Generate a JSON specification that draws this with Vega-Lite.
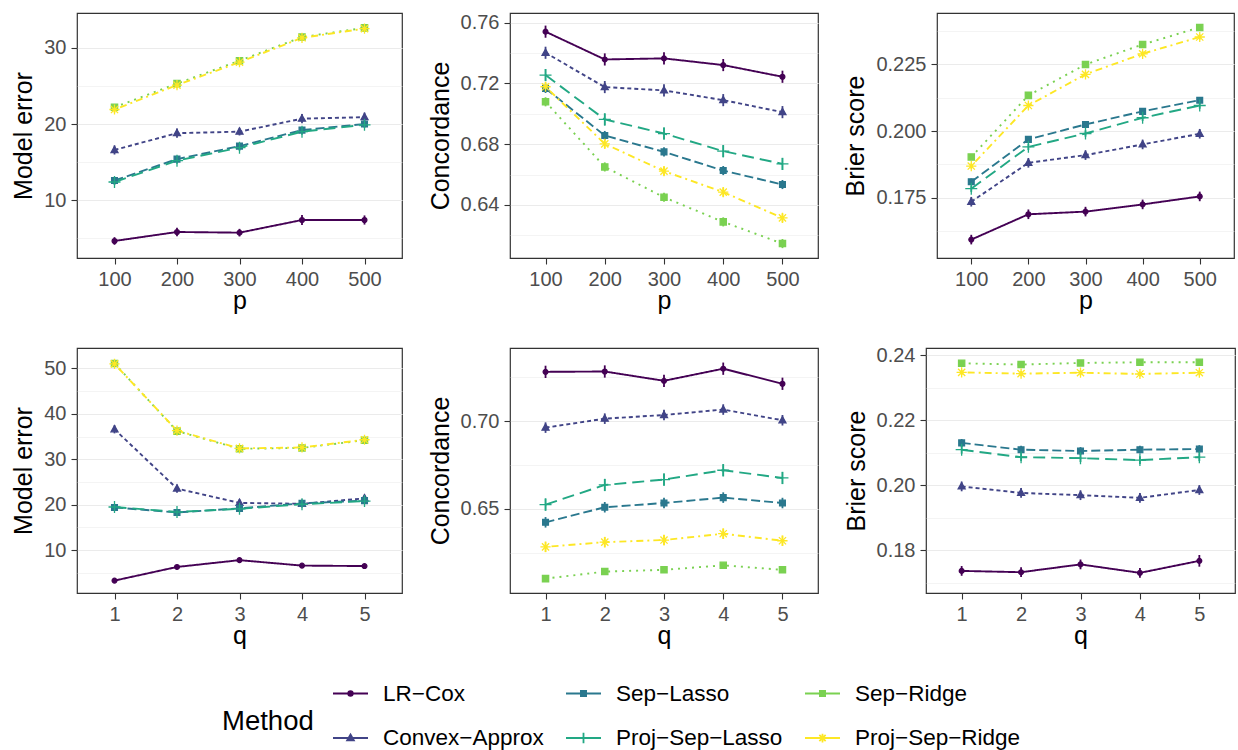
{
  "$schema": "https://vega.github.io/schema/vega-lite/v6.json",
  "padding": {"left": 11, "top": 12, "right": 0, "bottom": 0},
  "config": {
    "font": "Liberation Sans",
    "view": {"stroke": "#333333", "strokeWidth": 1.2},
    "axis": {
      "labelFont": "Liberation Sans", "labelFontSize": 20, "labelColor": "#4D4D4D",
      "titleFont": "Liberation Sans", "titleFontSize": 25, "titleFontWeight": "normal", "titleColor": "#000000",
      "tickColor": "#333333", "tickSize": 6, "tickWidth": 1.1, "domain": false,
      "gridColor": "#EBEBEB", "gridWidth": 1.1, "labelPadding": 5, "titlePadding": 7
    },
    "axisX": {"titlePadding": -1, "labelAngle": 0},
    "legend": {
      "orient": "none", "legendX": 145, "legendY": 662, "direction": "horizontal", "columns": 3,
      "titleOrient": "left", "titleAnchor": "middle", "titleBaseline": "middle",
      "titleFont": "Liberation Sans", "titleFontSize": 27.5, "titleFontWeight": "normal", "titleColor": "#000000", "titlePadding": 18,
      "labelFont": "Liberation Sans", "labelFontSize": 22.5, "labelColor": "#000000", "labelOffset": 14, "labelLimit": 400,
      "symbolSize": 1225, "symbolStrokeWidth": 1.8, "columnPadding": 18, "rowPadding": 14.5, "gridAlign": "each", "padding": 0
    }
  },
  "data": {"values": [
    {"panel":"me_p","x":100,"method":"LR−Cox","value":4.67,"err":0.5},
    {"panel":"me_p","x":200,"method":"LR−Cox","value":5.85,"err":0.55},
    {"panel":"me_p","x":300,"method":"LR−Cox","value":5.76,"err":0.5},
    {"panel":"me_p","x":400,"method":"LR−Cox","value":7.42,"err":0.65},
    {"panel":"me_p","x":500,"method":"LR−Cox","value":7.42,"err":0.6},
    {"panel":"me_p","x":100,"method":"Convex−Approx","value":16.6,"err":0.6},
    {"panel":"me_p","x":200,"method":"Convex−Approx","value":18.8,"err":0.6},
    {"panel":"me_p","x":300,"method":"Convex−Approx","value":19.0,"err":0.5},
    {"panel":"me_p","x":400,"method":"Convex−Approx","value":20.7,"err":0.6},
    {"panel":"me_p","x":500,"method":"Convex−Approx","value":20.9,"err":0.6},
    {"panel":"me_p","x":100,"method":"Sep−Lasso","value":12.6,"err":0.4},
    {"panel":"me_p","x":200,"method":"Sep−Lasso","value":15.4,"err":0.4},
    {"panel":"me_p","x":300,"method":"Sep−Lasso","value":17.1,"err":0.4},
    {"panel":"me_p","x":400,"method":"Sep−Lasso","value":19.2,"err":0.4},
    {"panel":"me_p","x":500,"method":"Sep−Lasso","value":20.0,"err":0.4},
    {"panel":"me_p","x":100,"method":"Proj−Sep−Lasso","value":12.4,"err":0.4},
    {"panel":"me_p","x":200,"method":"Proj−Sep−Lasso","value":15.2,"err":0.4},
    {"panel":"me_p","x":300,"method":"Proj−Sep−Lasso","value":16.9,"err":0.4},
    {"panel":"me_p","x":400,"method":"Proj−Sep−Lasso","value":19.0,"err":0.4},
    {"panel":"me_p","x":500,"method":"Proj−Sep−Lasso","value":19.9,"err":0.4},
    {"panel":"me_p","x":100,"method":"Sep−Ridge","value":22.2,"err":0.4},
    {"panel":"me_p","x":200,"method":"Sep−Ridge","value":25.3,"err":0.4},
    {"panel":"me_p","x":300,"method":"Sep−Ridge","value":28.3,"err":0.4},
    {"panel":"me_p","x":400,"method":"Sep−Ridge","value":31.4,"err":0.4},
    {"panel":"me_p","x":500,"method":"Sep−Ridge","value":32.6,"err":0.4},
    {"panel":"me_p","x":100,"method":"Proj−Sep−Ridge","value":21.9,"err":0.4},
    {"panel":"me_p","x":200,"method":"Proj−Sep−Ridge","value":25.1,"err":0.4},
    {"panel":"me_p","x":300,"method":"Proj−Sep−Ridge","value":28.1,"err":0.4},
    {"panel":"me_p","x":400,"method":"Proj−Sep−Ridge","value":31.3,"err":0.4},
    {"panel":"me_p","x":500,"method":"Proj−Sep−Ridge","value":32.5,"err":0.4},

    {"panel":"conc_p","x":100,"method":"LR−Cox","value":0.7541,"err":0.004},
    {"panel":"conc_p","x":200,"method":"LR−Cox","value":0.7358,"err":0.004},
    {"panel":"conc_p","x":300,"method":"LR−Cox","value":0.7365,"err":0.004},
    {"panel":"conc_p","x":400,"method":"LR−Cox","value":0.7321,"err":0.004},
    {"panel":"conc_p","x":500,"method":"LR−Cox","value":0.7244,"err":0.004},
    {"panel":"conc_p","x":100,"method":"Convex−Approx","value":0.7402,"err":0.004},
    {"panel":"conc_p","x":200,"method":"Convex−Approx","value":0.7176,"err":0.004},
    {"panel":"conc_p","x":300,"method":"Convex−Approx","value":0.7154,"err":0.004},
    {"panel":"conc_p","x":400,"method":"Convex−Approx","value":0.7090,"err":0.004},
    {"panel":"conc_p","x":500,"method":"Convex−Approx","value":0.7011,"err":0.004},
    {"panel":"conc_p","x":100,"method":"Sep−Lasso","value":0.7167,"err":0.003},
    {"panel":"conc_p","x":200,"method":"Sep−Lasso","value":0.6857,"err":0.003},
    {"panel":"conc_p","x":300,"method":"Sep−Lasso","value":0.6749,"err":0.003},
    {"panel":"conc_p","x":400,"method":"Sep−Lasso","value":0.6626,"err":0.003},
    {"panel":"conc_p","x":500,"method":"Sep−Lasso","value":0.6534,"err":0.003},
    {"panel":"conc_p","x":100,"method":"Proj−Sep−Lasso","value":0.7255,"err":0.004},
    {"panel":"conc_p","x":200,"method":"Proj−Sep−Lasso","value":0.6963,"err":0.004},
    {"panel":"conc_p","x":300,"method":"Proj−Sep−Lasso","value":0.6870,"err":0.004},
    {"panel":"conc_p","x":400,"method":"Proj−Sep−Lasso","value":0.6754,"err":0.004},
    {"panel":"conc_p","x":500,"method":"Proj−Sep−Lasso","value":0.6670,"err":0.004},
    {"panel":"conc_p","x":100,"method":"Sep−Ridge","value":0.7079,"err":0.003},
    {"panel":"conc_p","x":200,"method":"Sep−Ridge","value":0.6650,"err":0.003},
    {"panel":"conc_p","x":300,"method":"Sep−Ridge","value":0.6450,"err":0.003},
    {"panel":"conc_p","x":400,"method":"Sep−Ridge","value":0.6288,"err":0.003},
    {"panel":"conc_p","x":500,"method":"Sep−Ridge","value":0.6145,"err":0.003},
    {"panel":"conc_p","x":100,"method":"Proj−Sep−Ridge","value":0.7178,"err":0.003},
    {"panel":"conc_p","x":200,"method":"Proj−Sep−Ridge","value":0.6802,"err":0.003},
    {"panel":"conc_p","x":300,"method":"Proj−Sep−Ridge","value":0.6622,"err":0.003},
    {"panel":"conc_p","x":400,"method":"Proj−Sep−Ridge","value":0.6484,"err":0.003},
    {"panel":"conc_p","x":500,"method":"Proj−Sep−Ridge","value":0.6314,"err":0.003},

    {"panel":"brier_p","x":100,"method":"LR−Cox","value":0.1593,"err":0.0018},
    {"panel":"brier_p","x":200,"method":"LR−Cox","value":0.1688,"err":0.0018},
    {"panel":"brier_p","x":300,"method":"LR−Cox","value":0.1698,"err":0.0018},
    {"panel":"brier_p","x":400,"method":"LR−Cox","value":0.1725,"err":0.0018},
    {"panel":"brier_p","x":500,"method":"LR−Cox","value":0.1755,"err":0.0018},
    {"panel":"brier_p","x":100,"method":"Convex−Approx","value":0.1735,"err":0.0018},
    {"panel":"brier_p","x":200,"method":"Convex−Approx","value":0.1881,"err":0.0018},
    {"panel":"brier_p","x":300,"method":"Convex−Approx","value":0.1910,"err":0.0018},
    {"panel":"brier_p","x":400,"method":"Convex−Approx","value":0.1950,"err":0.0018},
    {"panel":"brier_p","x":500,"method":"Convex−Approx","value":0.1990,"err":0.0018},
    {"panel":"brier_p","x":100,"method":"Sep−Lasso","value":0.1810,"err":0.0012},
    {"panel":"brier_p","x":200,"method":"Sep−Lasso","value":0.1969,"err":0.0012},
    {"panel":"brier_p","x":300,"method":"Sep−Lasso","value":0.2025,"err":0.0012},
    {"panel":"brier_p","x":400,"method":"Sep−Lasso","value":0.2074,"err":0.0012},
    {"panel":"brier_p","x":500,"method":"Sep−Lasso","value":0.2116,"err":0.0012},
    {"panel":"brier_p","x":100,"method":"Proj−Sep−Lasso","value":0.1784,"err":0.0012},
    {"panel":"brier_p","x":200,"method":"Proj−Sep−Lasso","value":0.1941,"err":0.0012},
    {"panel":"brier_p","x":300,"method":"Proj−Sep−Lasso","value":0.1991,"err":0.0012},
    {"panel":"brier_p","x":400,"method":"Proj−Sep−Lasso","value":0.2050,"err":0.0012},
    {"panel":"brier_p","x":500,"method":"Proj−Sep−Lasso","value":0.2096,"err":0.0012},
    {"panel":"brier_p","x":100,"method":"Sep−Ridge","value":0.1903,"err":0.001},
    {"panel":"brier_p","x":200,"method":"Sep−Ridge","value":0.2134,"err":0.001},
    {"panel":"brier_p","x":300,"method":"Sep−Ridge","value":0.2250,"err":0.001},
    {"panel":"brier_p","x":400,"method":"Sep−Ridge","value":0.2325,"err":0.001},
    {"panel":"brier_p","x":500,"method":"Sep−Ridge","value":0.2389,"err":0.001},
    {"panel":"brier_p","x":100,"method":"Proj−Sep−Ridge","value":0.1869,"err":0.001},
    {"panel":"brier_p","x":200,"method":"Proj−Sep−Ridge","value":0.2096,"err":0.001},
    {"panel":"brier_p","x":300,"method":"Proj−Sep−Ridge","value":0.2213,"err":0.001},
    {"panel":"brier_p","x":400,"method":"Proj−Sep−Ridge","value":0.2290,"err":0.001},
    {"panel":"brier_p","x":500,"method":"Proj−Sep−Ridge","value":0.2353,"err":0.001},

    {"panel":"me_q","x":1,"method":"LR−Cox","value":3.3,"err":0.3},
    {"panel":"me_q","x":2,"method":"LR−Cox","value":6.3,"err":0.3},
    {"panel":"me_q","x":3,"method":"LR−Cox","value":7.8,"err":0.3},
    {"panel":"me_q","x":4,"method":"LR−Cox","value":6.6,"err":0.3},
    {"panel":"me_q","x":5,"method":"LR−Cox","value":6.5,"err":0.3},
    {"panel":"me_q","x":1,"method":"Convex−Approx","value":36.6,"err":0.9},
    {"panel":"me_q","x":2,"method":"Convex−Approx","value":23.55,"err":0.9},
    {"panel":"me_q","x":3,"method":"Convex−Approx","value":20.4,"err":0.8},
    {"panel":"me_q","x":4,"method":"Convex−Approx","value":20.2,"err":0.8},
    {"panel":"me_q","x":5,"method":"Convex−Approx","value":21.4,"err":0.8},
    {"panel":"me_q","x":1,"method":"Sep−Lasso","value":19.4,"err":0.6},
    {"panel":"me_q","x":2,"method":"Sep−Lasso","value":18.3,"err":0.6},
    {"panel":"me_q","x":3,"method":"Sep−Lasso","value":19.2,"err":0.6},
    {"panel":"me_q","x":4,"method":"Sep−Lasso","value":20.3,"err":0.6},
    {"panel":"me_q","x":5,"method":"Sep−Lasso","value":20.9,"err":0.6},
    {"panel":"me_q","x":1,"method":"Proj−Sep−Lasso","value":19.5,"err":0.6},
    {"panel":"me_q","x":2,"method":"Proj−Sep−Lasso","value":18.4,"err":0.6},
    {"panel":"me_q","x":3,"method":"Proj−Sep−Lasso","value":19.1,"err":0.6},
    {"panel":"me_q","x":4,"method":"Proj−Sep−Lasso","value":20.1,"err":0.6},
    {"panel":"me_q","x":5,"method":"Proj−Sep−Lasso","value":20.8,"err":0.6},
    {"panel":"me_q","x":1,"method":"Sep−Ridge","value":51.1,"err":0.6},
    {"panel":"me_q","x":2,"method":"Sep−Ridge","value":36.2,"err":0.6},
    {"panel":"me_q","x":3,"method":"Sep−Ridge","value":32.3,"err":0.6},
    {"panel":"me_q","x":4,"method":"Sep−Ridge","value":32.5,"err":0.6},
    {"panel":"me_q","x":5,"method":"Sep−Ridge","value":34.2,"err":0.6},
    {"panel":"me_q","x":1,"method":"Proj−Sep−Ridge","value":51.0,"err":0.5},
    {"panel":"me_q","x":2,"method":"Proj−Sep−Ridge","value":36.3,"err":0.5},
    {"panel":"me_q","x":3,"method":"Proj−Sep−Ridge","value":32.4,"err":0.5},
    {"panel":"me_q","x":4,"method":"Proj−Sep−Ridge","value":32.6,"err":0.5},
    {"panel":"me_q","x":5,"method":"Proj−Sep−Ridge","value":34.3,"err":0.5},

    {"panel":"conc_q","x":1,"method":"LR−Cox","value":0.7282,"err":0.0035},
    {"panel":"conc_q","x":2,"method":"LR−Cox","value":0.7284,"err":0.0035},
    {"panel":"conc_q","x":3,"method":"LR−Cox","value":0.7231,"err":0.0035},
    {"panel":"conc_q","x":4,"method":"LR−Cox","value":0.7300,"err":0.0035},
    {"panel":"conc_q","x":5,"method":"LR−Cox","value":0.7214,"err":0.0035},
    {"panel":"conc_q","x":1,"method":"Convex−Approx","value":0.6964,"err":0.003},
    {"panel":"conc_q","x":2,"method":"Convex−Approx","value":0.7015,"err":0.003},
    {"panel":"conc_q","x":3,"method":"Convex−Approx","value":0.7036,"err":0.003},
    {"panel":"conc_q","x":4,"method":"Convex−Approx","value":0.7067,"err":0.003},
    {"panel":"conc_q","x":5,"method":"Convex−Approx","value":0.7006,"err":0.003},
    {"panel":"conc_q","x":1,"method":"Sep−Lasso","value":0.6424,"err":0.003},
    {"panel":"conc_q","x":2,"method":"Sep−Lasso","value":0.6510,"err":0.003},
    {"panel":"conc_q","x":3,"method":"Sep−Lasso","value":0.6534,"err":0.003},
    {"panel":"conc_q","x":4,"method":"Sep−Lasso","value":0.6565,"err":0.003},
    {"panel":"conc_q","x":5,"method":"Sep−Lasso","value":0.6534,"err":0.003},
    {"panel":"conc_q","x":1,"method":"Proj−Sep−Lasso","value":0.6525,"err":0.0035},
    {"panel":"conc_q","x":2,"method":"Proj−Sep−Lasso","value":0.6637,"err":0.0035},
    {"panel":"conc_q","x":3,"method":"Proj−Sep−Lasso","value":0.6668,"err":0.0035},
    {"panel":"conc_q","x":4,"method":"Proj−Sep−Lasso","value":0.6721,"err":0.0035},
    {"panel":"conc_q","x":5,"method":"Proj−Sep−Lasso","value":0.6677,"err":0.0035},
    {"panel":"conc_q","x":1,"method":"Sep−Ridge","value":0.6103,"err":0.0015},
    {"panel":"conc_q","x":2,"method":"Sep−Ridge","value":0.6143,"err":0.0015},
    {"panel":"conc_q","x":3,"method":"Sep−Ridge","value":0.6153,"err":0.0015},
    {"panel":"conc_q","x":4,"method":"Sep−Ridge","value":0.6179,"err":0.0015},
    {"panel":"conc_q","x":5,"method":"Sep−Ridge","value":0.6153,"err":0.0015},
    {"panel":"conc_q","x":1,"method":"Proj−Sep−Ridge","value":0.6284,"err":0.003},
    {"panel":"conc_q","x":2,"method":"Proj−Sep−Ridge","value":0.6311,"err":0.003},
    {"panel":"conc_q","x":3,"method":"Proj−Sep−Ridge","value":0.6323,"err":0.003},
    {"panel":"conc_q","x":4,"method":"Proj−Sep−Ridge","value":0.6359,"err":0.003},
    {"panel":"conc_q","x":5,"method":"Proj−Sep−Ridge","value":0.6319,"err":0.003},

    {"panel":"brier_q","x":1,"method":"LR−Cox","value":0.1736,"err":0.0015},
    {"panel":"brier_q","x":2,"method":"LR−Cox","value":0.1732,"err":0.0015},
    {"panel":"brier_q","x":3,"method":"LR−Cox","value":0.1756,"err":0.0015},
    {"panel":"brier_q","x":4,"method":"LR−Cox","value":0.1730,"err":0.0015},
    {"panel":"brier_q","x":5,"method":"LR−Cox","value":0.1767,"err":0.0018},
    {"panel":"brier_q","x":1,"method":"Convex−Approx","value":0.1996,"err":0.0015},
    {"panel":"brier_q","x":2,"method":"Convex−Approx","value":0.1976,"err":0.0015},
    {"panel":"brier_q","x":3,"method":"Convex−Approx","value":0.1969,"err":0.0015},
    {"panel":"brier_q","x":4,"method":"Convex−Approx","value":0.1961,"err":0.0015},
    {"panel":"brier_q","x":5,"method":"Convex−Approx","value":0.1985,"err":0.0015},
    {"panel":"brier_q","x":1,"method":"Sep−Lasso","value":0.2130,"err":0.0012},
    {"panel":"brier_q","x":2,"method":"Sep−Lasso","value":0.2109,"err":0.0012},
    {"panel":"brier_q","x":3,"method":"Sep−Lasso","value":0.2105,"err":0.0012},
    {"panel":"brier_q","x":4,"method":"Sep−Lasso","value":0.2109,"err":0.0012},
    {"panel":"brier_q","x":5,"method":"Sep−Lasso","value":0.2111,"err":0.0012},
    {"panel":"brier_q","x":1,"method":"Proj−Sep−Lasso","value":0.2109,"err":0.0012},
    {"panel":"brier_q","x":2,"method":"Proj−Sep−Lasso","value":0.2086,"err":0.0012},
    {"panel":"brier_q","x":3,"method":"Proj−Sep−Lasso","value":0.2083,"err":0.0012},
    {"panel":"brier_q","x":4,"method":"Proj−Sep−Lasso","value":0.2077,"err":0.0012},
    {"panel":"brier_q","x":5,"method":"Proj−Sep−Lasso","value":0.2086,"err":0.0012},
    {"panel":"brier_q","x":1,"method":"Sep−Ridge","value":0.2375,"err":0.0008},
    {"panel":"brier_q","x":2,"method":"Sep−Ridge","value":0.2371,"err":0.0008},
    {"panel":"brier_q","x":3,"method":"Sep−Ridge","value":0.2376,"err":0.0008},
    {"panel":"brier_q","x":4,"method":"Sep−Ridge","value":0.2378,"err":0.0008},
    {"panel":"brier_q","x":5,"method":"Sep−Ridge","value":0.2378,"err":0.0008},
    {"panel":"brier_q","x":1,"method":"Proj−Sep−Ridge","value":0.2347,"err":0.0008},
    {"panel":"brier_q","x":2,"method":"Proj−Sep−Ridge","value":0.2343,"err":0.0008},
    {"panel":"brier_q","x":3,"method":"Proj−Sep−Ridge","value":0.2346,"err":0.0008},
    {"panel":"brier_q","x":4,"method":"Proj−Sep−Ridge","value":0.2342,"err":0.0008},
    {"panel":"brier_q","x":5,"method":"Proj−Sep−Ridge","value":0.2346,"err":0.0008}
  ]},
  "vconcat": [
    {
      "hconcat": [
        {
          "width": 325, "height": 245,
          "transform": [{"filter": "datum.panel === 'me_p'"}],
          "encoding": {
            "x": {"field": "x", "type": "ordinal", "scale": {"type": "point", "padding": 0.6}, "axis": {"title": "p"}},
            "y": {"field": "value", "type": "quantitative", "scale": {"domain": [2.44, 34.55], "nice": false, "zero": false},
                  "axis": {"title": "Model error", "values": [5, 10, 15, 20, 25, 30],
                           "labelExpr": "round(datum.value) % 10 === 0 ? datum.label : ''",
                           "gridWidth": {"condition": {"test": "round(datum.value) % 10 !== 0", "value": 0.55}, "value": 1.1},
                           "tickOpacity": {"condition": {"test": "round(datum.value) % 10 !== 0", "value": 0}, "value": 1}}},
            "color": {"field": "method", "type": "nominal", "title": "Method",
                      "scale": {"domain": ["LR−Cox", "Sep−Lasso", "Sep−Ridge", "Convex−Approx", "Proj−Sep−Lasso", "Proj−Sep−Ridge"],
                                "range": ["#440154", "#2A788E", "#7AD151", "#414487", "#22A884", "#FDE725"]},
                      "legend": {"encode": {
                        "title": {"update": {"dy": {"value": 10}}},
                        "symbols": {"update": {
                        "shape": {"signal": "['M-1,0H1M0.13,0A0.13,0.13 0 1,1 -0.13,0A0.13,0.13 0 1,1 0.13,0Z','M-1,0H1M-0.15,-0.15H0.15V0.15H-0.15Z','M-1,0H1M-0.15,-0.15H0.15V0.15H-0.15Z','M-1,0H1M0,-0.2L0.19,0.13L-0.19,0.13Z','M-1,0H1M0,-0.3V0.3','M-1,0H1M0,-0.25V0.25M-0.18,-0.18L0.18,0.18M-0.18,0.18L0.18,-0.18'][indexof(['LR−Cox','Sep−Lasso','Sep−Ridge','Convex−Approx','Proj−Sep−Lasso','Proj−Sep−Ridge'], datum.value)]"},
                        "fill": {"signal": "scale('color', datum.value)"},
                        "stroke": {"signal": "scale('color', datum.value)"},
                        "opacity": {"value": 1},
                        "strokeDash": {"value": []}
                      }}}}}
          },
          "layer": [
            {"mark": {"type": "line", "strokeWidth": 1.9},
             "encoding": {"strokeDash": {"field": "method", "type": "nominal", "legend": null,
               "scale": {"domain": ["LR−Cox", "Convex−Approx", "Sep−Lasso", "Proj−Sep−Lasso", "Sep−Ridge", "Proj−Sep−Ridge"],
                         "range": [[1, 0], [4, 3], [9, 4], [12, 6], [2, 5], [2, 4, 7, 4]]}}}},
            {"mark": {"type": "errorbar", "thickness": 1.8}, "encoding": {"yError": {"field": "err"}}},
            {"mark": {"type": "point", "filled": true, "size": 144, "opacity": 1, "strokeWidth": 1.3},
             "encoding": {
               "shape": {"field": "method", "type": "nominal", "legend": null,
                 "scale": {"domain": ["LR−Cox", "Convex−Approx", "Sep−Lasso", "Proj−Sep−Lasso", "Sep−Ridge", "Proj−Sep−Ridge"],
                           "range": ["M0.4,0A0.4,0.4 0 1,1 -0.4,0A0.4,0.4 0 1,1 0.4,0Z", "M0,-0.62L0.58,0.42L-0.58,0.42Z", "M-0.48,-0.48H0.48V0.48H-0.48Z", "M-1,0H1M0,-1V1", "M-0.52,-0.52H0.52V0.52H-0.52Z", "M-0.85,0H0.85M0,-0.85V0.85M-0.6,-0.6L0.6,0.6M-0.6,0.6L0.6,-0.6"]}},
               "stroke": {"field": "method", "type": "nominal", "legend": null,
                 "scale": {"domain": ["LR−Cox", "Convex−Approx", "Sep−Lasso", "Proj−Sep−Lasso", "Sep−Ridge", "Proj−Sep−Ridge"],
                           "range": ["#440154", "#414487", "#2A788E", "#22A884", "#7AD151", "#FDE725"]}}
             }}
          ]
        },
        {
          "width": 308, "height": 245,
          "transform": [{"filter": "datum.panel === 'conc_p'"}],
          "encoding": {
            "x": {"field": "x", "type": "ordinal", "scale": {"type": "point", "padding": 0.6}, "axis": {"title": "p"}},
            "y": {"field": "value", "type": "quantitative", "scale": {"domain": [0.605, 0.7664], "nice": false, "zero": false},
                  "axis": {"title": "Concordance", "format": ".2f", "values": [0.62, 0.64, 0.66, 0.68, 0.70, 0.72, 0.74, 0.76],
                           "labelExpr": "round(datum.value * 100) % 4 === 0 ? datum.label : ''",
                           "gridWidth": {"condition": {"test": "round(datum.value * 100) % 4 !== 0", "value": 0.55}, "value": 1.1},
                           "tickOpacity": {"condition": {"test": "round(datum.value * 100) % 4 !== 0", "value": 0}, "value": 1}}},
            "color": {"field": "method", "type": "nominal", "title": "Method",
                      "scale": {"domain": ["LR−Cox", "Sep−Lasso", "Sep−Ridge", "Convex−Approx", "Proj−Sep−Lasso", "Proj−Sep−Ridge"],
                                "range": ["#440154", "#2A788E", "#7AD151", "#414487", "#22A884", "#FDE725"]}}
          },
          "layer": [
            {"mark": {"type": "line", "strokeWidth": 1.9},
             "encoding": {"strokeDash": {"field": "method", "type": "nominal", "legend": null,
               "scale": {"domain": ["LR−Cox", "Convex−Approx", "Sep−Lasso", "Proj−Sep−Lasso", "Sep−Ridge", "Proj−Sep−Ridge"],
                         "range": [[1, 0], [4, 3], [9, 4], [12, 6], [2, 5], [2, 4, 7, 4]]}}}},
            {"mark": {"type": "errorbar", "thickness": 1.8}, "encoding": {"yError": {"field": "err"}}},
            {"mark": {"type": "point", "filled": true, "size": 144, "opacity": 1, "strokeWidth": 1.3},
             "encoding": {
               "shape": {"field": "method", "type": "nominal", "legend": null,
                 "scale": {"domain": ["LR−Cox", "Convex−Approx", "Sep−Lasso", "Proj−Sep−Lasso", "Sep−Ridge", "Proj−Sep−Ridge"],
                           "range": ["M0.4,0A0.4,0.4 0 1,1 -0.4,0A0.4,0.4 0 1,1 0.4,0Z", "M0,-0.62L0.58,0.42L-0.58,0.42Z", "M-0.48,-0.48H0.48V0.48H-0.48Z", "M-1,0H1M0,-1V1", "M-0.52,-0.52H0.52V0.52H-0.52Z", "M-0.85,0H0.85M0,-0.85V0.85M-0.6,-0.6L0.6,0.6M-0.6,0.6L0.6,-0.6"]}},
               "stroke": {"field": "method", "type": "nominal", "legend": null,
                 "scale": {"domain": ["LR−Cox", "Convex−Approx", "Sep−Lasso", "Proj−Sep−Lasso", "Sep−Ridge", "Proj−Sep−Ridge"],
                           "range": ["#440154", "#414487", "#2A788E", "#22A884", "#7AD151", "#FDE725"]}}
             }}
          ]
        },
        {
          "width": 297, "height": 245,
          "transform": [{"filter": "datum.panel === 'brier_p'"}],
          "encoding": {
            "x": {"field": "x", "type": "ordinal", "scale": {"type": "point", "padding": 0.6}, "axis": {"title": "p"}},
            "y": {"field": "value", "type": "quantitative", "scale": {"domain": [0.1524, 0.2443], "nice": false, "zero": false},
                  "axis": {"title": "Brier score", "format": ".3f", "values": [0.1625, 0.175, 0.1875, 0.2, 0.2125, 0.225, 0.2375],
                           "labelExpr": "round(datum.value * 1000) % 25 === 0 ? datum.label : ''",
                           "gridWidth": {"condition": {"test": "round(datum.value * 1000) % 25 !== 0", "value": 0.55}, "value": 1.1},
                           "tickOpacity": {"condition": {"test": "round(datum.value * 1000) % 25 !== 0", "value": 0}, "value": 1}}},
            "color": {"field": "method", "type": "nominal", "title": "Method",
                      "scale": {"domain": ["LR−Cox", "Sep−Lasso", "Sep−Ridge", "Convex−Approx", "Proj−Sep−Lasso", "Proj−Sep−Ridge"],
                                "range": ["#440154", "#2A788E", "#7AD151", "#414487", "#22A884", "#FDE725"]}}
          },
          "layer": [
            {"mark": {"type": "line", "strokeWidth": 1.9},
             "encoding": {"strokeDash": {"field": "method", "type": "nominal", "legend": null,
               "scale": {"domain": ["LR−Cox", "Convex−Approx", "Sep−Lasso", "Proj−Sep−Lasso", "Sep−Ridge", "Proj−Sep−Ridge"],
                         "range": [[1, 0], [4, 3], [9, 4], [12, 6], [2, 5], [2, 4, 7, 4]]}}}},
            {"mark": {"type": "errorbar", "thickness": 1.8}, "encoding": {"yError": {"field": "err"}}},
            {"mark": {"type": "point", "filled": true, "size": 144, "opacity": 1, "strokeWidth": 1.3},
             "encoding": {
               "shape": {"field": "method", "type": "nominal", "legend": null,
                 "scale": {"domain": ["LR−Cox", "Convex−Approx", "Sep−Lasso", "Proj−Sep−Lasso", "Sep−Ridge", "Proj−Sep−Ridge"],
                           "range": ["M0.4,0A0.4,0.4 0 1,1 -0.4,0A0.4,0.4 0 1,1 0.4,0Z", "M0,-0.62L0.58,0.42L-0.58,0.42Z", "M-0.48,-0.48H0.48V0.48H-0.48Z", "M-1,0H1M0,-1V1", "M-0.52,-0.52H0.52V0.52H-0.52Z", "M-0.85,0H0.85M0,-0.85V0.85M-0.6,-0.6L0.6,0.6M-0.6,0.6L0.6,-0.6"]}},
               "stroke": {"field": "method", "type": "nominal", "legend": null,
                 "scale": {"domain": ["LR−Cox", "Convex−Approx", "Sep−Lasso", "Proj−Sep−Lasso", "Sep−Ridge", "Proj−Sep−Ridge"],
                           "range": ["#440154", "#414487", "#2A788E", "#22A884", "#7AD151", "#FDE725"]}}
             }}
          ]
        }
      ],
      "spacing": 24
    },
    {
      "hconcat": [
        {
          "width": 325, "height": 245,
          "transform": [{"filter": "datum.panel === 'me_q'"}],
          "encoding": {
            "x": {"field": "x", "type": "ordinal", "scale": {"type": "point", "padding": 0.6}, "axis": {"title": "q"}},
            "y": {"field": "value", "type": "quantitative", "scale": {"domain": [0.57, 54.49], "nice": false, "zero": false},
                  "axis": {"title": "Model error", "values": [5, 10, 15, 20, 25, 30, 35, 40, 45, 50],
                           "labelExpr": "round(datum.value) % 10 === 0 ? datum.label : ''",
                           "gridWidth": {"condition": {"test": "round(datum.value) % 10 !== 0", "value": 0.55}, "value": 1.1},
                           "tickOpacity": {"condition": {"test": "round(datum.value) % 10 !== 0", "value": 0}, "value": 1}}},
            "color": {"field": "method", "type": "nominal", "title": "Method",
                      "scale": {"domain": ["LR−Cox", "Sep−Lasso", "Sep−Ridge", "Convex−Approx", "Proj−Sep−Lasso", "Proj−Sep−Ridge"],
                                "range": ["#440154", "#2A788E", "#7AD151", "#414487", "#22A884", "#FDE725"]}}
          },
          "layer": [
            {"mark": {"type": "line", "strokeWidth": 1.9},
             "encoding": {"strokeDash": {"field": "method", "type": "nominal", "legend": null,
               "scale": {"domain": ["LR−Cox", "Convex−Approx", "Sep−Lasso", "Proj−Sep−Lasso", "Sep−Ridge", "Proj−Sep−Ridge"],
                         "range": [[1, 0], [4, 3], [9, 4], [12, 6], [2, 5], [2, 4, 7, 4]]}}}},
            {"mark": {"type": "errorbar", "thickness": 1.8}, "encoding": {"yError": {"field": "err"}}},
            {"mark": {"type": "point", "filled": true, "size": 144, "opacity": 1, "strokeWidth": 1.3},
             "encoding": {
               "shape": {"field": "method", "type": "nominal", "legend": null,
                 "scale": {"domain": ["LR−Cox", "Convex−Approx", "Sep−Lasso", "Proj−Sep−Lasso", "Sep−Ridge", "Proj−Sep−Ridge"],
                           "range": ["M0.4,0A0.4,0.4 0 1,1 -0.4,0A0.4,0.4 0 1,1 0.4,0Z", "M0,-0.62L0.58,0.42L-0.58,0.42Z", "M-0.48,-0.48H0.48V0.48H-0.48Z", "M-1,0H1M0,-1V1", "M-0.52,-0.52H0.52V0.52H-0.52Z", "M-0.85,0H0.85M0,-0.85V0.85M-0.6,-0.6L0.6,0.6M-0.6,0.6L0.6,-0.6"]}},
               "stroke": {"field": "method", "type": "nominal", "legend": null,
                 "scale": {"domain": ["LR−Cox", "Convex−Approx", "Sep−Lasso", "Proj−Sep−Lasso", "Sep−Ridge", "Proj−Sep−Ridge"],
                           "range": ["#440154", "#414487", "#2A788E", "#22A884", "#7AD151", "#FDE725"]}}
             }}
          ]
        },
        {
          "width": 308, "height": 245,
          "transform": [{"filter": "datum.panel === 'conc_q'"}],
          "encoding": {
            "x": {"field": "x", "type": "ordinal", "scale": {"type": "point", "padding": 0.6}, "axis": {"title": "q"}},
            "y": {"field": "value", "type": "quantitative", "scale": {"domain": [0.6021, 0.7418], "nice": false, "zero": false},
                  "axis": {"title": "Concordance", "format": ".2f", "values": [0.625, 0.65, 0.675, 0.70, 0.725],
                           "labelExpr": "round(datum.value * 1000) % 50 === 0 ? datum.label : ''",
                           "gridWidth": {"condition": {"test": "round(datum.value * 1000) % 50 !== 0", "value": 0.55}, "value": 1.1},
                           "tickOpacity": {"condition": {"test": "round(datum.value * 1000) % 50 !== 0", "value": 0}, "value": 1}}},
            "color": {"field": "method", "type": "nominal", "title": "Method",
                      "scale": {"domain": ["LR−Cox", "Sep−Lasso", "Sep−Ridge", "Convex−Approx", "Proj−Sep−Lasso", "Proj−Sep−Ridge"],
                                "range": ["#440154", "#2A788E", "#7AD151", "#414487", "#22A884", "#FDE725"]}}
          },
          "layer": [
            {"mark": {"type": "line", "strokeWidth": 1.9},
             "encoding": {"strokeDash": {"field": "method", "type": "nominal", "legend": null,
               "scale": {"domain": ["LR−Cox", "Convex−Approx", "Sep−Lasso", "Proj−Sep−Lasso", "Sep−Ridge", "Proj−Sep−Ridge"],
                         "range": [[1, 0], [4, 3], [9, 4], [12, 6], [2, 5], [2, 4, 7, 4]]}}}},
            {"mark": {"type": "errorbar", "thickness": 1.8}, "encoding": {"yError": {"field": "err"}}},
            {"mark": {"type": "point", "filled": true, "size": 144, "opacity": 1, "strokeWidth": 1.3},
             "encoding": {
               "shape": {"field": "method", "type": "nominal", "legend": null,
                 "scale": {"domain": ["LR−Cox", "Convex−Approx", "Sep−Lasso", "Proj−Sep−Lasso", "Sep−Ridge", "Proj−Sep−Ridge"],
                           "range": ["M0.4,0A0.4,0.4 0 1,1 -0.4,0A0.4,0.4 0 1,1 0.4,0Z", "M0,-0.62L0.58,0.42L-0.58,0.42Z", "M-0.48,-0.48H0.48V0.48H-0.48Z", "M-1,0H1M0,-1V1", "M-0.52,-0.52H0.52V0.52H-0.52Z", "M-0.85,0H0.85M0,-0.85V0.85M-0.6,-0.6L0.6,0.6M-0.6,0.6L0.6,-0.6"]}},
               "stroke": {"field": "method", "type": "nominal", "legend": null,
                 "scale": {"domain": ["LR−Cox", "Convex−Approx", "Sep−Lasso", "Proj−Sep−Lasso", "Sep−Ridge", "Proj−Sep−Ridge"],
                           "range": ["#440154", "#414487", "#2A788E", "#22A884", "#7AD151", "#FDE725"]}}
             }}
          ]
        },
        {
          "width": 309, "height": 245,
          "transform": [{"filter": "datum.panel === 'brier_q'"}],
          "encoding": {
            "x": {"field": "x", "type": "ordinal", "scale": {"type": "point", "padding": 0.6}, "axis": {"title": "q"}},
            "y": {"field": "value", "type": "quantitative", "scale": {"domain": [0.1668, 0.2422], "nice": false, "zero": false},
                  "axis": {"title": "Brier score", "format": ".2f", "values": [0.17, 0.18, 0.19, 0.20, 0.21, 0.22, 0.23, 0.24],
                           "labelExpr": "round(datum.value * 100) % 2 === 0 ? datum.label : ''",
                           "gridWidth": {"condition": {"test": "round(datum.value * 100) % 2 !== 0", "value": 0.55}, "value": 1.1},
                           "tickOpacity": {"condition": {"test": "round(datum.value * 100) % 2 !== 0", "value": 0}, "value": 1}}},
            "color": {"field": "method", "type": "nominal", "title": "Method",
                      "scale": {"domain": ["LR−Cox", "Sep−Lasso", "Sep−Ridge", "Convex−Approx", "Proj−Sep−Lasso", "Proj−Sep−Ridge"],
                                "range": ["#440154", "#2A788E", "#7AD151", "#414487", "#22A884", "#FDE725"]}}
          },
          "layer": [
            {"mark": {"type": "line", "strokeWidth": 1.9},
             "encoding": {"strokeDash": {"field": "method", "type": "nominal", "legend": null,
               "scale": {"domain": ["LR−Cox", "Convex−Approx", "Sep−Lasso", "Proj−Sep−Lasso", "Sep−Ridge", "Proj−Sep−Ridge"],
                         "range": [[1, 0], [4, 3], [9, 4], [12, 6], [2, 5], [2, 4, 7, 4]]}}}},
            {"mark": {"type": "errorbar", "thickness": 1.8}, "encoding": {"yError": {"field": "err"}}},
            {"mark": {"type": "point", "filled": true, "size": 144, "opacity": 1, "strokeWidth": 1.3},
             "encoding": {
               "shape": {"field": "method", "type": "nominal", "legend": null,
                 "scale": {"domain": ["LR−Cox", "Convex−Approx", "Sep−Lasso", "Proj−Sep−Lasso", "Sep−Ridge", "Proj−Sep−Ridge"],
                           "range": ["M0.4,0A0.4,0.4 0 1,1 -0.4,0A0.4,0.4 0 1,1 0.4,0Z", "M0,-0.62L0.58,0.42L-0.58,0.42Z", "M-0.48,-0.48H0.48V0.48H-0.48Z", "M-1,0H1M0,-1V1", "M-0.52,-0.52H0.52V0.52H-0.52Z", "M-0.85,0H0.85M0,-0.85V0.85M-0.6,-0.6L0.6,0.6M-0.6,0.6L0.6,-0.6"]}},
               "stroke": {"field": "method", "type": "nominal", "legend": null,
                 "scale": {"domain": ["LR−Cox", "Convex−Approx", "Sep−Lasso", "Proj−Sep−Lasso", "Sep−Ridge", "Proj−Sep−Ridge"],
                           "range": ["#440154", "#414487", "#2A788E", "#22A884", "#7AD151", "#FDE725"]}}
             }}
          ]
        }
      ],
      "spacing": 24
    }
  ],
  "spacing": 30
}
